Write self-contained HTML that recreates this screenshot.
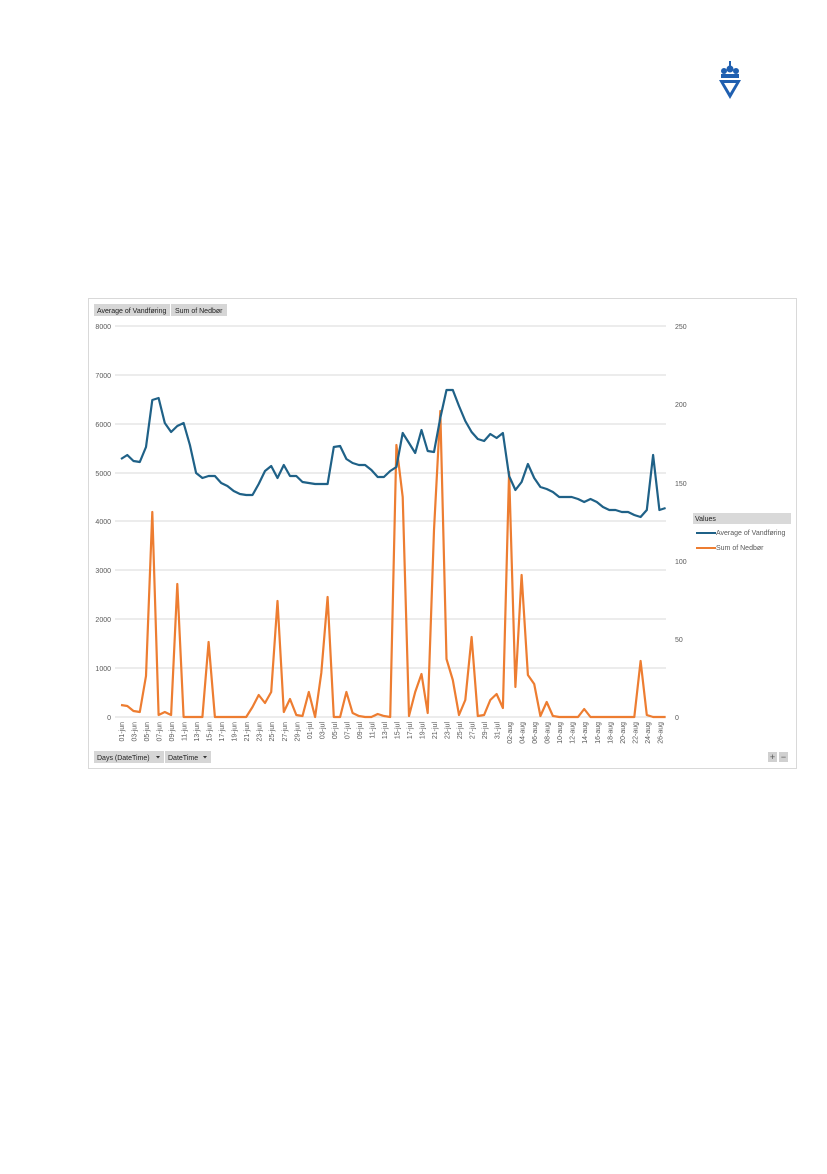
<!DOCTYPE html>
<html><head><meta charset="utf-8"><style>
html,body{margin:0;padding:0;background:#fff;}
body{width:827px;height:1169px;position:relative;overflow:hidden;font-family:"Liberation Sans",sans-serif;}
</style></head><body>
<svg width="827" height="1169" viewBox="0 0 827 1169" xmlns="http://www.w3.org/2000/svg" font-family="Liberation Sans, sans-serif">
<!-- logo -->
<g fill="#1f5fb0">
<rect x="721" y="74" width="18" height="4"/>
<circle cx="724" cy="71" r="3"/><circle cx="730" cy="69" r="3.5"/><circle cx="736" cy="71" r="3"/>
<rect x="729" y="61" width="2" height="6"/>
<path d="M719 80 L741 80 L730 99 Z M724 83 L730 93 L736 83 Z" fill-rule="evenodd"/>
</g>
<!-- chart frame -->
<rect x="88.5" y="298.5" width="708" height="470" fill="#fff" stroke="#d9d9d9"/>
<!-- buttons -->
<rect x="94" y="304" width="76" height="12" fill="#d6d6d6"/>
<rect x="171" y="304" width="56" height="12" fill="#d6d6d6"/>
<text x="97" y="313" font-size="7" fill="#222">Average of Vandføring</text>
<text x="175" y="313" font-size="7" fill="#222">Sum of Nedbør</text>
<rect x="94" y="751" width="70" height="12" fill="#d6d6d6"/>
<rect x="165" y="751" width="46" height="12" fill="#d6d6d6"/>
<text x="97" y="760" font-size="7" fill="#222">Days (DateTime)</text>
<text x="168" y="760" font-size="7" fill="#222">DateTime</text>
<path d="M156 756 l4 0 l-2 2.5z M203 756 l4 0 l-2 2.5z" fill="#333"/>
<rect x="768" y="752" width="9" height="10" fill="#d0d0d0"/><rect x="779" y="752" width="9" height="10" fill="#d0d0d0"/>
<text x="772.5" y="760" font-size="9" fill="#555" text-anchor="middle">+</text>
<text x="783.5" y="760" font-size="9" fill="#555" text-anchor="middle">−</text>
<!-- gridlines -->
<g stroke="#d9d9d9" stroke-width="1">
<line x1="115" x2="666" y1="326" y2="326"/><line x1="115" x2="666" y1="375" y2="375"/>
<line x1="115" x2="666" y1="424" y2="424"/><line x1="115" x2="666" y1="473" y2="473"/>
<line x1="115" x2="666" y1="521" y2="521"/><line x1="115" x2="666" y1="570" y2="570"/>
<line x1="115" x2="666" y1="619" y2="619"/><line x1="115" x2="666" y1="668" y2="668"/>
<line x1="115" x2="666" y1="717" y2="717"/>
</g>
<g font-size="7" fill="#595959" text-anchor="end">
<text x="111" y="329">8000</text><text x="111" y="378">7000</text><text x="111" y="427">6000</text>
<text x="111" y="476">5000</text><text x="111" y="524">4000</text><text x="111" y="573">3000</text>
<text x="111" y="622">2000</text><text x="111" y="671">1000</text><text x="111" y="720">0</text>
</g>
<g font-size="7" fill="#595959">
<text x="675" y="329">250</text><text x="675" y="407">200</text><text x="675" y="486">150</text>
<text x="675" y="564">100</text><text x="675" y="642">50</text><text x="675" y="720">0</text>
</g>
<!-- x labels -->
<g font-size="7" fill="#595959" text-anchor="end">
<text transform="translate(124,722) rotate(-90)">01-jun</text>
<text transform="translate(136.5,722) rotate(-90)">03-jun</text>
<text transform="translate(149,722) rotate(-90)">05-jun</text>
<text transform="translate(161.6,722) rotate(-90)">07-jun</text>
<text transform="translate(174.1,722) rotate(-90)">09-jun</text>
<text transform="translate(186.6,722) rotate(-90)">11-jun</text>
<text transform="translate(199.1,722) rotate(-90)">13-jun</text>
<text transform="translate(211.6,722) rotate(-90)">15-jun</text>
<text transform="translate(224.2,722) rotate(-90)">17-jun</text>
<text transform="translate(236.7,722) rotate(-90)">19-jun</text>
<text transform="translate(249.2,722) rotate(-90)">21-jun</text>
<text transform="translate(261.7,722) rotate(-90)">23-jun</text>
<text transform="translate(274.2,722) rotate(-90)">25-jun</text>
<text transform="translate(286.8,722) rotate(-90)">27-jun</text>
<text transform="translate(299.3,722) rotate(-90)">29-jun</text>
<text transform="translate(311.8,722) rotate(-90)">01-jul</text>
<text transform="translate(324.3,722) rotate(-90)">03-jul</text>
<text transform="translate(336.8,722) rotate(-90)">05-jul</text>
<text transform="translate(349.4,722) rotate(-90)">07-jul</text>
<text transform="translate(361.9,722) rotate(-90)">09-jul</text>
<text transform="translate(374.4,722) rotate(-90)">11-jul</text>
<text transform="translate(386.9,722) rotate(-90)">13-jul</text>
<text transform="translate(399.4,722) rotate(-90)">15-jul</text>
<text transform="translate(412,722) rotate(-90)">17-jul</text>
<text transform="translate(424.5,722) rotate(-90)">19-jul</text>
<text transform="translate(437,722) rotate(-90)">21-jul</text>
<text transform="translate(449.5,722) rotate(-90)">23-jul</text>
<text transform="translate(462,722) rotate(-90)">25-jul</text>
<text transform="translate(474.6,722) rotate(-90)">27-jul</text>
<text transform="translate(487.1,722) rotate(-90)">29-jul</text>
<text transform="translate(499.6,722) rotate(-90)">31-jul</text>
<text transform="translate(512.1,722) rotate(-90)">02-aug</text>
<text transform="translate(524.6,722) rotate(-90)">04-aug</text>
<text transform="translate(537.2,722) rotate(-90)">06-aug</text>
<text transform="translate(549.7,722) rotate(-90)">08-aug</text>
<text transform="translate(562.2,722) rotate(-90)">10-aug</text>
<text transform="translate(574.7,722) rotate(-90)">12-aug</text>
<text transform="translate(587.2,722) rotate(-90)">14-aug</text>
<text transform="translate(599.8,722) rotate(-90)">16-aug</text>
<text transform="translate(612.3,722) rotate(-90)">18-aug</text>
<text transform="translate(624.8,722) rotate(-90)">20-aug</text>
<text transform="translate(637.3,722) rotate(-90)">22-aug</text>
<text transform="translate(649.8,722) rotate(-90)">24-aug</text>
<text transform="translate(662.4,722) rotate(-90)">26-aug</text>
</g>
<!-- orange series -->
<polyline fill="none" stroke="#ed7d31" stroke-width="2.2" stroke-linejoin="round" points="
121,705 127.3,706 133.5,711 139.8,712 146,676 152.3,512 158.6,715 164.8,712 171.1,715 177.3,584 183.6,717 189.9,717 196.1,717 202.4,717 208.6,642 214.9,717 221.2,717 227.4,717 233.7,717 239.9,717 246.2,717 252.5,707 258.7,695 265,703 271.2,692 277.5,601 283.8,712 290,699 296.3,715 302.5,716 308.8,692 315.1,717 321.3,673 327.6,597 333.8,717 340.1,717 346.4,692 352.6,713 358.9,716 365.1,717 371.4,717 377.7,714 383.9,716 390.2,717 396.4,445 402.7,497 409,716 415.2,692 421.5,674 427.7,713 434,530 440.3,411 446.5,659 452.8,680 459,715 465.3,700 471.6,637 477.8,716 484.1,715 490.3,700 496.6,694 502.9,708 509.1,472 515.4,687 521.6,575 527.9,675 534.2,684 540.4,716 546.7,702 552.9,716 559.2,717 565.5,717 571.7,717 578,717 584.2,709 590.5,717 596.8,717 603,717 609.3,717 615.5,717 621.8,717 628.1,717 634.3,717 640.6,661 646.8,715 653.1,717 659.4,717 665.6,717"/>
<!-- blue series -->
<polyline fill="none" stroke="#1f6187" stroke-width="2.2" stroke-linejoin="round" points="
121,459 127.3,455 133.5,461 139.8,462 146,447 152.3,400 158.6,398 164.8,423 171.1,432 177.3,426 183.6,423 189.9,445 196.1,473 202.4,478 208.6,476 214.9,476 221.2,483 227.4,486 233.7,491 239.9,494 246.2,495 252.5,495 258.7,484 265,471 271.2,466 277.5,478 283.8,465 290,476 296.3,476 302.5,482 308.8,483 315.1,484 321.3,484 327.6,484 333.8,447 340.1,446 346.4,459 352.6,463 358.9,465 365.1,465 371.4,470 377.7,477 383.9,477 390.2,471 396.4,467 402.7,433 409,443 415.2,453 421.5,430 427.7,451 434,452 440.3,418 446.5,390 452.8,390 459,406 465.3,421 471.6,432 477.8,439 484.1,441 490.3,434 496.6,438 502.9,433 509.1,476 515.4,490 521.6,482 527.9,464 534.2,478 540.4,487 546.7,489 552.9,492 559.2,497 565.5,497 571.7,497 578,499 584.2,502 590.5,499 596.8,502 603,507 609.3,510 615.5,510 621.8,512 628.1,512 634.3,515 640.6,517 646.8,510 653.1,455 659.4,510 665.6,508"/>
<!-- legend -->
<rect x="693" y="513" width="98" height="11" fill="#d9d9d9"/>
<text x="695" y="521" font-size="7" fill="#222">Values</text>
<line x1="696" y1="533" x2="716" y2="533" stroke="#1f6187" stroke-width="2"/>
<text x="716" y="535" font-size="7" fill="#595959">Average of Vandføring</text>
<line x1="696" y1="548" x2="716" y2="548" stroke="#ed7d31" stroke-width="2"/>
<text x="716" y="550" font-size="7" fill="#595959">Sum of Nedbør</text>
</svg>
</body></html>
